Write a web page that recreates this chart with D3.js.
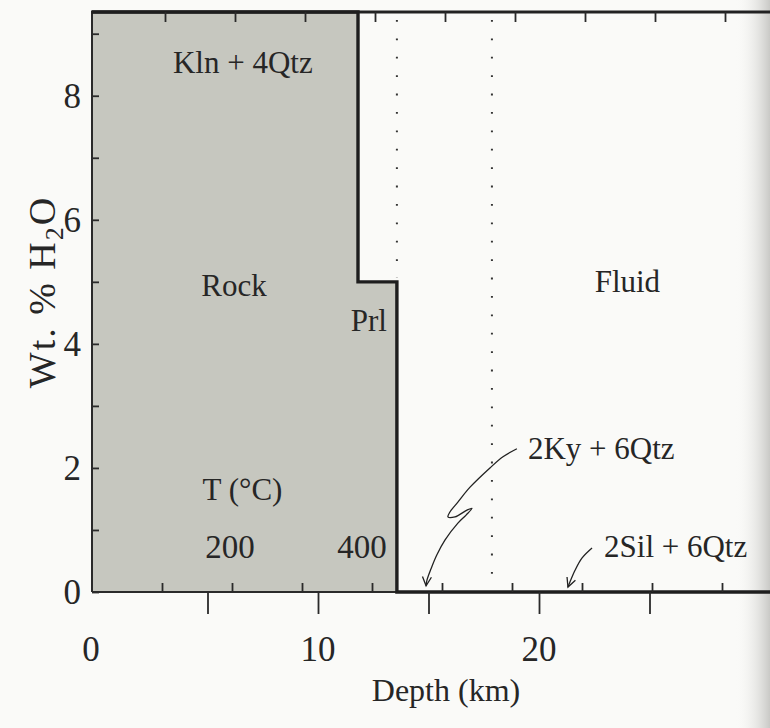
<!DOCTYPE html>
<html>
<head>
<meta charset="utf-8">
<script src="https://cdn.jsdelivr.net/npm/d3@7/dist/d3.min.js"></script>
<style>
  html, body { margin: 0; padding: 0; background: #fafaf8; }
  svg { display: block; }
  text { font-family: "Liberation Serif", "Times New Roman", serif; fill: #262626; }
</style>
</head>
<body>
<svg id="chart" width="770" height="728"></svg>
<script>
// ---------------- data ----------------
// H2O content (wt.%) of the rock as a function of depth (km), step function
const stepDepth = [0, 11.81, 13.57, 30.5];
const stepWt    = [9.35, 5.0, 0, 0];
// dotted reaction boundaries (depth, km)
const boundaryDepth = [13.57, 17.87];
const boundaryTopWt = [9.35, 9.35];
const boundaryBotWt = [5.0, 0];
// axis ticks
const wtTicks = [0, 1, 2, 3, 4, 5, 6, 7, 8, 9];
const wtLabels = [0, 2, 4, 6, 8];
const depthTicks = [5, 10, 15, 20, 25];
const depthLabels = [0, 10, 20];
const tempTicks = [100, 200, 300, 400, 500, 600, 700, 800, 900];
const tempLabels = ["200", "400"];
const tempLabelValues = [200, 400];
// region / mineral labels
const regionLabels = ["Kln + 4Qtz", "Rock", "Prl", "Fluid"];
const regionDepth  = [6.6, 6.2, 12.3, 24.0];
const regionWt     = [8.37, 4.77, 4.2, 4.83];
// annotation arrows (depth km, wt.%)
const kyLabel = "2Ky + 6Qtz";
const kyArrowDepth = [19.00, 18.37, 17.78, 16.88, 16.33, 15.97, 15.88, 16.20, 16.74, 16.97, 16.70, 16.33, 15.75, 15.38, 15.11, 14.93, 14.89];
const kyArrowWt    = [2.31, 2.18, 2.00, 1.69, 1.45, 1.29, 1.21, 1.21, 1.32, 1.35, 1.24, 1.11, 0.84, 0.60, 0.37, 0.19, 0.10];
const silLabel = "2Sil + 6Qtz";
const silArrowDepth = [22.40, 21.95, 21.63, 21.40, 21.31];
const silArrowWt    = [0.71, 0.55, 0.35, 0.16, 0.08];

// ---------------- layout ----------------
const svg = d3.select("#chart");
const L = 92, T = 12, B = 592, R = 775;

const x = d3.scaleLinear().domain([0, 30]).range([97, 97 + 22.1 * 30]);
const tx = d3.scaleLinear().domain([0, 1000]).range([L, L + 700]);
const y = d3.scaleLinear().domain([0, 9.35]).range([B, T]);

// page tint at right edge (scan gutter)
const defs = svg.append("defs");
const grad = defs.append("linearGradient").attr("id", "edge").attr("x1", "0").attr("x2", "1");
grad.append("stop").attr("offset", "0").attr("stop-color", "#fafaf8").attr("stop-opacity", 0);
grad.append("stop").attr("offset", "1").attr("stop-color", "#c9c9c6").attr("stop-opacity", 1);
svg.append("rect").attr("x", 735).attr("y", 0).attr("width", 35).attr("height", 728).attr("fill", "url(#edge)");

// arrow marker
defs.append("marker").attr("id", "arr").attr("viewBox", "-10 -6 12 12")
  .attr("refX", 0).attr("refY", 0).attr("markerWidth", 12).attr("markerHeight", 12)
  .attr("markerUnits", "userSpaceOnUse").attr("orient", "auto")
  .append("path").attr("d", "M-9,-4.5 L0,0 L-9,4.5").attr("fill", "none")
  .attr("stroke", "#222").attr("stroke-width", 1.3);

const steps = stepDepth.map((d, i) => ({ d, w: stepWt[i] }));

// rock (grey) area
const rockPts = steps.filter(p => p.w > 0 || p.d <= stepDepth[2]);
const area = d3.area()
  .x((p, i) => i === 0 ? L : x(p.d))
  .y0(y(0)).y1(p => y(p.w))
  .curve(d3.curveStepAfter);
svg.append("path").datum(rockPts).attr("d", area).attr("fill", "#c6c7bf");

// dotted boundaries
boundaryDepth.forEach((d, i) => {
  svg.append("line")
    .attr("x1", x(d)).attr("x2", x(d))
    .attr("y1", y(boundaryTopWt[i]) + 8).attr("y2", y(boundaryBotWt[i]) - 4)
    .attr("stroke", "#333").attr("stroke-width", 2)
    .attr("stroke-dasharray", "1.8,16.6");
});

// left axis line
svg.append("line").attr("x1", L).attr("x2", L).attr("y1", T).attr("y2", B)
  .attr("stroke", "#2a2a2a").attr("stroke-width", 2);
// bottom axis line (thin under rock)
svg.append("line").attr("x1", L).attr("x2", R).attr("y1", B).attr("y2", B)
  .attr("stroke", "#2a2a2a").attr("stroke-width", 2);
// top frame line
svg.append("line").attr("x1", L - 1).attr("x2", R).attr("y1", T).attr("y2", T)
  .attr("stroke", "#222").attr("stroke-width", 3);

// step line (H2O curve)
const line = d3.line().x((p, i) => i === 0 ? L : x(p.d)).y(p => y(p.w)).curve(d3.curveStepAfter);
svg.append("path").datum(steps).attr("d", line).attr("fill", "none")
  .attr("stroke", "#1e1e1e").attr("stroke-width", 3.4);

// y axis: inner ticks + labels
const yAxis = d3.axisRight(y).tickValues(wtTicks).tickSize(7).tickFormat("");
const gy = svg.append("g").attr("transform", `translate(${L},0)`).call(yAxis);
gy.select(".domain").remove();
gy.selectAll("line").attr("stroke", "#2a2a2a").attr("stroke-width", 1.8);
svg.selectAll(".ylab").data(wtLabels).enter().append("text")
  .attr("x", 81).attr("y", d => y(d)).attr("dy", "0.35em")
  .attr("text-anchor", "end").attr("font-size", 35).text(d => d);

// temperature ticks: inner at bottom and top
const gtb = svg.append("g").attr("transform", `translate(0,${B})`)
  .call(d3.axisTop(tx).tickValues(tempTicks).tickSize(9).tickFormat(""));
gtb.select(".domain").remove();
gtb.selectAll("line").attr("stroke", "#2a2a2a").attr("stroke-width", 1.8);
const gtt = svg.append("g").attr("transform", `translate(3,${T})`)
  .call(d3.axisBottom(tx).tickValues(tempTicks).tickSize(10).tickFormat(""));
gtt.select(".domain").remove();
gtt.selectAll("line").attr("stroke", "#2a2a2a").attr("stroke-width", 1.8);

// depth ticks: outer at bottom
const gd = svg.append("g").attr("transform", `translate(0,${B})`)
  .call(d3.axisBottom(x).tickValues(depthTicks).tickSize(22).tickFormat(""));
gd.select(".domain").remove();
gd.selectAll("line").attr("stroke", "#2a2a2a").attr("stroke-width", 1.8);
svg.selectAll(".xlab").data(depthLabels).enter().append("text")
  .attr("x", d => x(d) - (d === 0 ? 6 : 0)).attr("y", 661)
  .attr("text-anchor", "middle").attr("font-size", 35).text(d => d);

// axis titles
svg.append("text").attr("x", 446).attr("y", 701).attr("text-anchor", "middle")
  .attr("font-size", 32).text("Depth (km)");
const yt = svg.append("text").attr("transform", `translate(55,${292}) rotate(-90)`)
  .attr("text-anchor", "middle").attr("font-size", 38).attr("letter-spacing", 2);
yt.append("tspan").text("Wt. % H");
yt.append("tspan").attr("font-size", 26).attr("dy", 8).text("2");
yt.append("tspan").attr("dy", -8).text("O");

// region labels
regionLabels.forEach((t, i) => {
  svg.append("text").attr("x", x(regionDepth[i])).attr("y", y(regionWt[i]))
    .attr("text-anchor", "middle").attr("font-size", 31).text(t);
});

// temperature labels
svg.append("text").attr("x", tx(215)).attr("y", 500).attr("text-anchor", "middle")
  .attr("font-size", 31).text("T (°C)");
tempLabelValues.forEach((v, i) => {
  svg.append("text").attr("x", tx(v) - (i === 1 ? 10 : 2)).attr("y", 558)
    .attr("text-anchor", "middle").attr("font-size", 33).text(tempLabels[i]);
});

// annotation arrows
const arrowLine = d3.line().x(p => x(p[0])).y(p => y(p[1])).curve(d3.curveCatmullRom.alpha(0.5));
svg.append("path").datum(kyArrowDepth.map((d, i) => [d, kyArrowWt[i]]))
  .attr("d", arrowLine).attr("fill", "none").attr("stroke", "#222")
  .attr("stroke-width", 1.3).attr("marker-end", "url(#arr)");
svg.append("path").datum(silArrowDepth.map((d, i) => [d, silArrowWt[i]]))
  .attr("d", arrowLine).attr("fill", "none").attr("stroke", "#222")
  .attr("stroke-width", 1.3).attr("marker-end", "url(#arr)");
svg.append("text").attr("x", x(kyArrowDepth[0]) + 11).attr("y", y(kyArrowWt[0]) + 10)
  .attr("font-size", 31).text(kyLabel);
svg.append("text").attr("x", x(silArrowDepth[0]) + 12).attr("y", y(silArrowWt[0]) + 9)
  .attr("font-size", 31).text(silLabel);
</script>
</body>
</html>
